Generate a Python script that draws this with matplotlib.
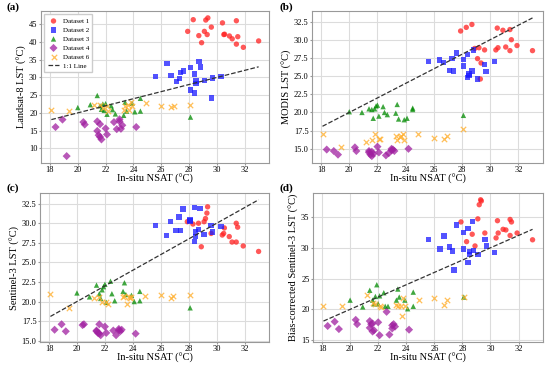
import matplotlib
matplotlib.use("Agg")
import matplotlib.pyplot as plt
import numpy as np

plt.rcParams['font.family'] = ['Liberation Serif', 'DejaVu Serif']

# In-situ NSAT x-values for each dataset (shared across panels)
x1 = [27.9, 28.3, 28.7, 28.9, 29.1, 29.2, 29.3, 29.35, 29.6, 30.4, 30.5, 30.55, 30.9, 31.1, 31.4, 31.4, 31.5, 31.9, 33.0]
x2 = [25.6, 26.4, 26.7, 27.1, 27.3, 27.4, 27.6, 28.1, 28.1, 28.4, 28.4, 28.5, 28.5, 28.7, 28.8, 29.1, 29.6, 29.7, 30.3]
x3 = [20.0, 20.9, 21.4, 21.6, 21.7, 21.8, 21.9, 22.0, 22.1, 22.4, 22.5, 22.7, 23.3, 23.4, 23.5, 23.9, 24.1, 24.5, 24.5, 28.1]
x4 = [18.4, 18.9, 19.2, 20.4, 20.5, 21.4, 21.4, 21.5, 21.6, 21.6, 21.7, 22.0, 22.1, 22.6, 22.8, 23.0, 23.0, 23.1, 23.2, 24.2]
x6 = [18.1, 19.4, 21.2, 21.6, 21.8, 22.1, 22.2, 23.3, 23.4, 23.6, 23.7, 23.8, 23.9, 24.9, 26.0, 26.7, 26.9, 28.1]

# Panel (a) Landsat-8 LST
a1 = [43.0, 46.3, 41.8, 39.8, 43.0, 46.2, 42.1, 46.8, 44.2, 45.4, 42.1, 42.2, 41.7, 40.9, 46.0, 39.4, 41.5, 38.5, 40.3]
a2 = [30.3, 34.0, 30.5, 28.9, 29.7, 31.4, 31.8, 32.8, 26.4, 31.0, 25.6, 28.3, 29.0, 34.5, 32.9, 29.1, 24.2, 29.8, 30.2]
a3 = [21.5, 22.3, 24.9, 22.0, 21.0, 22.5, 20.7, 22.6, 19.6, 22.0, 20.9, 19.7, 19.3, 23.0, 20.5, 22.7, 20.3, 24.1, 20.5, 18.8]
a4 = [16.0, 18.1, 7.8, 17.4, 16.7, 17.6, 14.9, 13.7, 16.8, 13.2, 12.5, 15.6, 13.9, 17.4, 15.4, 18.2, 17.6, 15.5, 16.5, 16.0]
a6 = [20.8, 20.5, 22.2, 22.2, 21.5, 21.9, 20.4, 20.8, 21.8, 22.3, 20.7, 23.0, 21.8, 22.9, 21.9, 21.7, 21.9, 22.2]

# Panel (b) MODIS LST
b1 = [31.2, 31.7, 32.1, 28.8, 27.4, 28.9, 24.6, 26.8, 28.6, 28.6, 31.6, 28.9, 31.3, 29.0, 31.4, 28.5, 30.0, 29.2, 28.5]
b2 = [27.0, 27.2, 26.9, 25.8, 27.4, 25.7, 28.2, 26.4, 27.3, 28.0, 24.8, 25.1, 25.3, 25.7, 28.6, 24.6, 26.6, 25.6, 27.0]
b3 = [20.1, 20.0, 20.5, 20.4, 19.2, 20.5, 20.9, 21.0, 19.5, 20.8, 20.0, 19.7, 19.9, 21.1, 19.1, 19.0, 19.2, 20.4, 20.6, 19.6]
b4 = [14.9, 14.7, 14.2, 15.2, 14.7, 14.5, 14.7, 14.2, 14.6, 14.0, 14.3, 15.3, 14.5, 14.1, 14.4, 14.8, 15.0, 14.9, 14.7, 15.0]
b6 = [17.1, 15.2, 16.0, 16.2, 17.0, 16.4, 16.4, 16.7, 16.2, 16.6, 16.7, 17.1, 16.2, 17.0, 16.5, 16.3, 16.7, 17.7]

# Panel (c) Sentinel-3 LST
c1 = [30.2, 29.9, 30.0, 27.0, 30.2, 30.6, 31.3, 32.1, 28.7, 28.5, 28.7, 29.4, 28.3, 27.6, 30.0, 27.6, 29.5, 27.1, 26.4]
c2 = [29.7, 28.4, 30.2, 29.1, 30.8, 29.1, 31.8, 30.3, 30.4, 32.0, 27.7, 28.3, 28.9, 29.2, 31.9, 28.6, 29.7, 28.9, 29.6]
c3 = [21.1, 20.6, 22.1, 21.0, 20.4, 21.5, 21.9, 22.2, 19.9, 22.6, 21.0, 20.1, 21.3, 22.4, 20.9, 20.8, 20.0, 21.3, 20.1, 19.2]
c4 = [16.4, 17.1, 16.2, 17.0, 17.1, 16.3, 16.2, 16.0, 17.1, 15.9, 15.7, 16.8, 16.0, 16.3, 15.7, 16.3, 16.5, 16.2, 16.4, 15.9]
c6 = [21.0, 19.2, 20.5, 20.6, 20.0, 19.9, 19.7, 20.6, 20.7, 19.7, 20.6, 20.5, 20.6, 20.7, 20.9, 20.5, 20.7, 20.9]

# Panel (d) Bias-corrected Sentinel-3 LST
d1 = [34.2, 31.0, 32.2, 30.3, 34.7, 37.0, 37.8, 37.6, 32.4, 31.6, 34.4, 32.4, 33.0, 32.9, 34.6, 32.0, 34.2, 32.4, 31.3]
d2 = [31.3, 29.8, 31.9, 30.1, 29.5, 26.4, 33.7, 29.8, 32.5, 33.1, 27.6, 28.9, 29.4, 34.3, 29.6, 28.9, 31.3, 30.3, 29.2]
d3 = [21.5, 20.4, 23.1, 21.5, 20.9, 22.1, 24.0, 20.9, 22.2, 22.7, 20.5, 20.5, 21.5, 23.3, 22.0, 21.5, 20.1, 22.8, 20.5, 22.0]
d4 = [17.3, 18.0, 16.8, 18.3, 17.6, 17.0, 18.1, 17.6, 16.4, 17.7, 16.6, 17.9, 15.8, 19.6, 15.9, 16.9, 17.4, 17.6, 17.2, 16.7]
d6 = [20.6, 20.6, 22.3, 21.0, 20.9, 20.5, 20.4, 20.7, 20.5, 20.5, 19.0, 21.8, 20.5, 21.6, 21.9, 20.7, 21.5, 22.0]

panels = [
    ("(a)", "Landsat-8 LST (°C)", [a1, a2, a3, a4, a6], [10, 15, 20, 25, 30, 35, 40, 45]),
    ("(b)", "MODIS LST (°C)", [b1, b2, b3, b4, b6], [15.0, 17.5, 20.0, 22.5, 25.0, 27.5, 30.0, 32.5]),
    ("(c)", "Sentinel-3 LST (°C)", [c1, c2, c3, c4, c6], [15.0, 17.5, 20.0, 22.5, 25.0, 27.5, 30.0, 32.5]),
    ("(d)", "Bias-corrected Sentinel-3 LST (°C)", [d1, d2, d3, d4, d6], [15, 20, 25, 30, 35]),
]
xs = [x1, x2, x3, x4, x6]
names = ["Dataset 1", "Dataset 2", "Dataset 3", "Dataset 4", "Dataset 6"]
colors = ["#ff2020", "#1a1aff", "#008a00", "#a020a0", "#ffb030"]
markers = ["o", "s", "^", "D", "x"]
sizes = [15, 15, 15, 17, 15]
xticks = [18, 20, 22, 24, 26, 28, 30, 32]

fig = plt.figure(figsize=(5.5, 3.65), dpi=100)
rects = [
    (41/550, 1-163/365, 228/550, 152/365),
    (312/550, 1-163/365, 231/550, 152/365),
    (40/550, 1-342/365, 229/550, 149/365),
    (313/550, 1-342/365, 230/550, 149/365),
]
label_pos = [(6, 12), (280, 12), (6, 193), (280, 193)]
allx = np.concatenate([np.array(v) for v in xs])
lx = np.array([allx.min(), allx.max()])

for (label, ylabel, ys, yt), r, lp in zip(panels, rects, label_pos):
    ax = fig.add_axes(r)
    ax.set_axisbelow(True)
    ax.grid(True, color="#dcdcdc", linewidth=0.8)
    for x, y, n, c, m, sz in zip(xs, ys, names, colors, markers, sizes):
        if m == "x":
            ax.scatter(x, y, s=sz, marker=m, color=c, alpha=0.8, linewidths=0.9, label=n)
        else:
            ax.scatter(x, y, s=sz, marker=m, color=c, alpha=0.75, edgecolors="none", label=n)
    ax.plot(lx, lx, linestyle="--", color="#333333", linewidth=0.9, label="1:1 Line")
    ax.set_xticks(xticks)
    ax.set_yticks(yt)
    ax.margins(0.05)
    for s in ax.spines.values():
        s.set_color("#999999")
        s.set_linewidth(0.8)
    ax.tick_params(labelsize=6, length=1.5, color="#999999", pad=1)
    ax.set_xlabel("In-situ NSAT (°C)", fontsize=7.5, labelpad=0)
    ax.set_ylabel(ylabel, fontsize=7.5, labelpad=1.5)
    fig.text(lp[0]/550, 1-lp[1]/365, label, fontsize=8, fontweight="bold", va="bottom", ha="left")
    if label == "(a)":
        ax.legend(loc="upper left", fontsize=5, frameon=True, framealpha=1,
                  edgecolor="#cccccc", borderpad=0.5, handletextpad=0.5, labelspacing=0.45,
                  handlelength=1.6, fancybox=False)

fig.savefig("out.png", dpi=100)
